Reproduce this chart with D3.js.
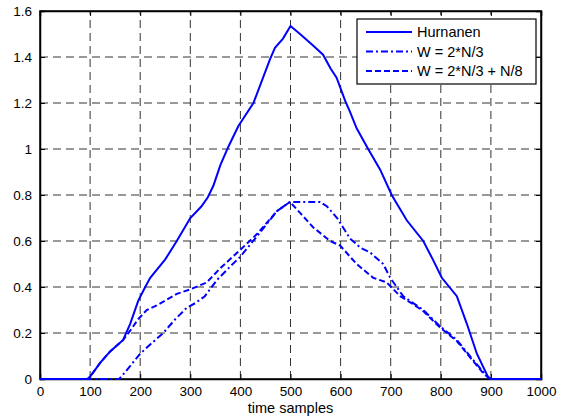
<!DOCTYPE html>
<html><head><meta charset="utf-8">
<script src="https://cdn.jsdelivr.net/npm/d3@7"></script>
<style>body{margin:0;background:#fff}svg{display:block}text{font-family:"Liberation Sans",Arial,sans-serif}</style>
</head><body>
<svg id="c" width="566" height="420"></svg>
<script>
const xTicks = [0,100,200,300,400,500,600,700,800,900,1000];
const yTicks = [0,0.2,0.4,0.6,0.8,1,1.2,1.4,1.6];
const seriesNames = ["Hurnanen","W = 2*N/3","W = 2*N/3 + N/8"];

const hurX = [0,95,100,110,120,140,166,180,196,210,220,250,273,300,322,335,346,360,376,396,426,459,469,485,500,519,545,565,580,592,609,619,632,655,679,702,732,765,784,802,832,852,872,894,900,1000];
const hurY = [0,0,0.01,0.04,0.07,0.12,0.17,0.24,0.34,0.40,0.44,0.52,0.60,0.70,0.75,0.79,0.84,0.93,1.01,1.10,1.20,1.39,1.44,1.48,1.535,1.50,1.45,1.41,1.35,1.31,1.21,1.16,1.09,1.00,0.91,0.80,0.69,0.60,0.52,0.44,0.36,0.24,0.11,0.01,0,0];

const w1X = [0,158,170,185,200,220,246,270,293,310,329,353,380,399,433,473,499,530,559,573,593,619,640,659,685,699,712,725,745,765,798,832,858,885,898,1000];
const w1Y = [0,0,0.03,0.07,0.11,0.15,0.20,0.26,0.31,0.33,0.36,0.43,0.49,0.53,0.62,0.73,0.77,0.77,0.77,0.75,0.70,0.61,0.57,0.55,0.50,0.44,0.40,0.36,0.33,0.30,0.23,0.17,0.10,0.03,0,0];

const w2X = [0,95,100,120,140,166,180,196,213,233,273,300,333,359,399,433,473,499,520,545,579,599,632,665,692,719,745,765,798,832,858,885,898,1000];
const w2Y = [0,0,0.01,0.07,0.12,0.17,0.21,0.26,0.30,0.32,0.37,0.39,0.42,0.48,0.56,0.63,0.73,0.77,0.72,0.66,0.60,0.58,0.50,0.44,0.42,0.36,0.325,0.295,0.225,0.165,0.095,0.025,0,0];

const svg = d3.select("#c");
const L=40, R=541, T=11, B=379;
const x = d3.scaleLinear().domain([0,1000]).range([L,R]);
const y = d3.scaleLinear().domain([0,1.6]).range([B,T]);

// grid
const g = svg.append("g");
g.selectAll(".vg").data(xTicks.slice(1,-1)).enter().append("line")
  .attr("x1",d=>x(d)).attr("x2",d=>x(d)).attr("y1",B).attr("y2",T)
  .attr("stroke","#333").attr("stroke-width",1).attr("stroke-dasharray","8,5");
g.selectAll(".hg").data(yTicks.slice(1,-1)).enter().append("line")
  .attr("y1",d=>y(d)).attr("y2",d=>y(d)).attr("x1",L).attr("x2",R)
  .attr("stroke","#333").attr("stroke-width",1).attr("stroke-dasharray","8,5");

// axes
const fs = "13.5px";
const xa = svg.append("g").attr("transform",`translate(0,${B})`).call(d3.axisBottom(x).tickValues(xTicks).tickSize(-5).tickPadding(7).tickFormat(d3.format("d")));
const xt = svg.append("g").attr("transform",`translate(0,${T})`).call(d3.axisTop(x).tickValues(xTicks).tickSize(-5).tickFormat(""));
const ya = svg.append("g").attr("transform",`translate(${L},0)`).call(d3.axisLeft(y).tickValues(yTicks).tickSize(-5).tickPadding(8).tickFormat(d=>d3.format("")(+d.toFixed(1))));
const yr = svg.append("g").attr("transform",`translate(${R},0)`).call(d3.axisRight(y).tickValues(yTicks).tickSize(-5).tickFormat(""));
[xa,xt,ya,yr].forEach(a=>{a.select(".domain").attr("stroke","#000").attr("stroke-width",1.5);a.selectAll(".tick line").attr("stroke","#000");a.selectAll("text").attr("fill","#000").style("font-size",fs).attr("font-family","'Liberation Sans',Arial,sans-serif");});
svg.append("rect").attr("x",L).attr("y",T).attr("width",R-L).attr("height",B-T).attr("fill","none").attr("stroke","#000").attr("stroke-width",1.5);

svg.append("text").attr("x",(L+R)/2).attr("y",413).attr("text-anchor","middle").style("font-size","14.5px").text("time samples");

// lines
const line = d3.line().x(d=>x(d[0])).y(d=>y(d[1]));
const series = [
  {xs:hurX, ys:hurY, dash:null},
  {xs:w1X, ys:w1Y, dash:"7,3,2,3"},
  {xs:w2X, ys:w2Y, dash:"6,3"}
];
series.forEach(s=>{
  svg.append("path").datum(d3.zip(s.xs,s.ys)).attr("d",line)
    .attr("fill","none").attr("stroke","#0000ff").attr("stroke-width",2)
    .attr("stroke-dasharray",s.dash);
});

// legend
const lg = svg.append("g");
lg.append("rect").attr("x",357).attr("y",19).attr("width",179).attr("height",65).attr("fill","#fff").attr("stroke","#000").attr("stroke-width",1.2);
seriesNames.forEach((n,i)=>{
  const yy = 32 + i*19.5;
  lg.append("line").attr("x1",366).attr("x2",412).attr("y1",yy).attr("y2",yy)
    .attr("stroke","#0000ff").attr("stroke-width",2).attr("stroke-dasharray",series[i].dash);
  lg.append("text").attr("x",417).attr("y",yy+5).style("font-size","14.5px").text(n);
});
</script>
</body></html>
